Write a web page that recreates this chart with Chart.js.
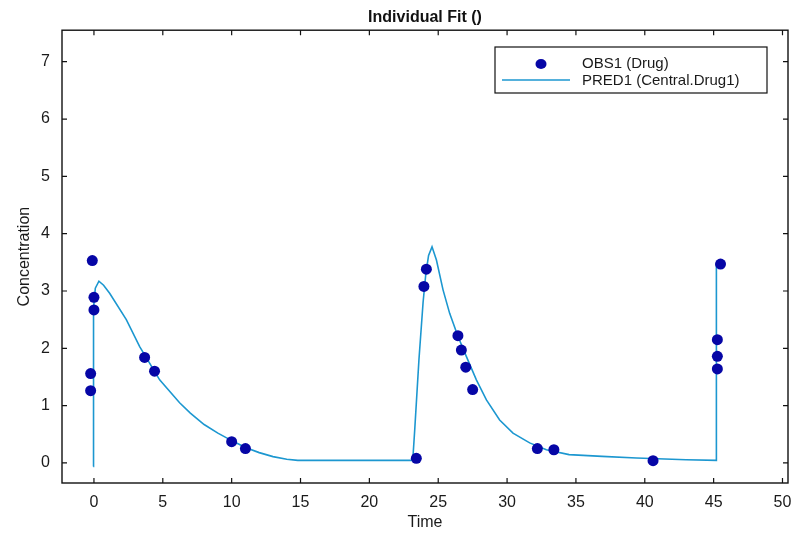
<!DOCTYPE html>
<html>
<head>
<meta charset="utf-8">
<title>Individual Fit ()</title>
<script src="https://cdn.jsdelivr.net/npm/chart.js@4.4.1/dist/chart.umd.min.js"></script>
<style>
  html, body { margin: 0; padding: 0; background: #fff; }
  #wrap { width: 795px; height: 534px; }
</style>
</head>
<body>
<div id="wrap"><canvas id="fit-chart" width="795" height="534"></canvas></div>
<script>
// Observed values (OBS1)
const obsTime = [-0.12, 0, 0, -0.24, -0.24, 3.68, 4.4, 10.0, 11.0, 23.41, 23.96, 24.14,
  26.43, 26.68, 27.0, 27.5, 32.2, 33.4, 40.6, 45.27, 45.27, 45.27, 45.5];
const obsConc = [3.53, 2.89, 2.67, 1.56, 1.26, 1.84, 1.6, 0.37, 0.25, 0.08, 3.08, 3.38,
  2.22, 1.97, 1.67, 1.28, 0.25, 0.23, 0.04, 2.15, 1.86, 1.64, 3.47];

// Predicted curve (PRED1)
const predTime = [-0.05, -0.03, 0.1, 0.36, 0.7, 1.14, 2.35, 3.32, 4.77, 6.22, 7, 8, 9, 10, 11,
  12, 13, 14, 14.8, 23.15, 23.3, 23.6, 23.9, 24.1, 24.3, 24.55, 24.87, 25.35, 25.83, 26.43,
  27.04, 27.77, 28.5, 29.46, 30.43, 31.64, 32.85, 34.5, 36.9, 39.4, 43.0, 45.2, 45.2];
const predConc = [-0.06, 2.7, 3.05, 3.17, 3.1, 2.96, 2.5, 2.03, 1.45, 1.05, 0.87, 0.67, 0.52,
  0.39, 0.27, 0.18, 0.11, 0.065, 0.045, 0.045, 0.6, 1.8, 2.8, 3.3, 3.62, 3.77, 3.54, 3.02,
  2.61, 2.21, 1.86, 1.45, 1.1, 0.75, 0.52, 0.35, 0.23, 0.145, 0.115, 0.087, 0.055, 0.045, 3.48];

// Tick labels
const xTicks = [0, 5, 10, 15, 20, 25, 30, 35, 40, 45, 50];
const yTicks = [0, 1, 2, 3, 4, 5, 6, 7];

const obsColor = "#0606a6";
const predColor = "#1c97d0";

Chart.defaults.font.family = "'Liberation Sans', Arial, sans-serif";
Chart.defaults.color = "#1a1a1a";

// Moldura com ticks para dentro, em todos os lados
const framePlugin = {
  id: "frame",
  afterDatasetsDraw(chart) {
    const { ctx, chartArea: a, scales } = chart;
    ctx.save();
    ctx.strokeStyle = "#111";
    ctx.lineWidth = 1.4;
    ctx.strokeRect(a.left, a.top, a.right - a.left, a.bottom - a.top);
    ctx.lineWidth = 1.2;
    ctx.beginPath();
    scales.x.ticks.forEach((t) => {
      const px = scales.x.getPixelForValue(t.value);
      ctx.moveTo(px, a.bottom);
      ctx.lineTo(px, a.bottom - 5);
      ctx.moveTo(px, a.top);
      ctx.lineTo(px, a.top + 5);
    });
    scales.y.ticks.forEach((t) => {
      const py = scales.y.getPixelForValue(t.value);
      ctx.moveTo(a.left, py);
      ctx.lineTo(a.left + 5, py);
      ctx.moveTo(a.right, py);
      ctx.lineTo(a.right - 5, py);
    });
    ctx.stroke();
    ctx.restore();
  },
};

// Legenda dentro do gráfico, canto superior direito
const boxLegend = {
  id: "boxLegend",
  afterDraw(chart) {
    const { ctx } = chart;
    const [obs, pred] = chart.data.datasets;
    const x = 495, y = 47, w = 272, h = 46;
    ctx.save();
    ctx.fillStyle = "#fff";
    ctx.fillRect(x, y, w, h);
    ctx.strokeStyle = "#111";
    ctx.lineWidth = 1.2;
    ctx.strokeRect(x, y, w, h);

    ctx.fillStyle = obs.backgroundColor;
    ctx.beginPath();
    ctx.ellipse(x + 46, y + 17, 5.5, 5, 0, 0, Math.PI * 2);
    ctx.fill();

    ctx.strokeStyle = pred.borderColor;
    ctx.lineWidth = 1.5;
    ctx.beginPath();
    ctx.moveTo(x + 7, y + 33);
    ctx.lineTo(x + 75, y + 33);
    ctx.stroke();

    ctx.fillStyle = "#1a1a1a";
    ctx.font = "15px 'Liberation Sans', Arial, sans-serif";
    ctx.textBaseline = "middle";
    ctx.fillText(obs.label, x + 87, y + 17);
    ctx.fillText(pred.label, x + 87, y + 34);
    ctx.restore();
  },
};

new Chart(document.getElementById("fit-chart"), {
  type: "scatter",
  data: {
    datasets: [
      {
        label: "OBS1 (Drug)",
        data: obsTime.map((t, i) => ({ x: t, y: obsConc[i] })),
        backgroundColor: obsColor,
        borderColor: obsColor,
        pointRadius: 5.5,
        pointBorderWidth: 0,
        order: 0,
      },
      {
        type: "line",
        label: "PRED1 (Central.Drug1)",
        data: predTime.map((t, i) => ({ x: t, y: predConc[i] })),
        borderColor: predColor,
        backgroundColor: predColor,
        borderWidth: 1.6,
        pointRadius: 0,
        tension: 0,
        showLine: true,
        fill: false,
        order: 1,
      },
    ],
  },
  options: {
    responsive: false,
    animation: false,
    layout: { padding: { left: 0, right: 7, top: 0, bottom: 0 } },
    plugins: {
      legend: { display: false },
      tooltip: { enabled: false },
      title: {
        display: true,
        text: "Individual Fit ()",
        fullSize: false,
        color: "#111",
        font: { size: 16, weight: "bold" },
        padding: { top: 8, bottom: 3 },
      },
    },
    scales: {
      x: {
        type: "linear",
        min: -2.32,
        max: 50.4,
        grid: { display: false, drawTicks: false },
        border: { display: false },
        afterBuildTicks: (s) => { s.ticks = xTicks.map((v) => ({ value: v })); },
        afterFit: (s) => { s.height = 51; s.paddingLeft = 0; s.paddingRight = 0; },
        ticks: { font: { size: 16 }, padding: 10, maxRotation: 0, includeBounds: false },
        title: { display: true, text: "Time", font: { size: 16 }, padding: { top: 0, bottom: 2 } },
      },
      y: {
        type: "linear",
        min: -0.35,
        max: 7.55,
        grid: { display: false, drawTicks: false },
        border: { display: false },
        afterBuildTicks: (s) => { s.ticks = yTicks.map((v) => ({ value: v })); },
        afterFit: (s) => { s.width = 62; s.paddingTop = 0; s.paddingBottom = 0; },
        ticks: { font: { size: 16 }, padding: 12, includeBounds: false },
        title: { display: true, text: "Concentration", font: { size: 16 }, padding: { top: 15, bottom: 0 } },
      },
    },
  },
  plugins: [framePlugin, boxLegend],
});
</script>
</body>
</html>
